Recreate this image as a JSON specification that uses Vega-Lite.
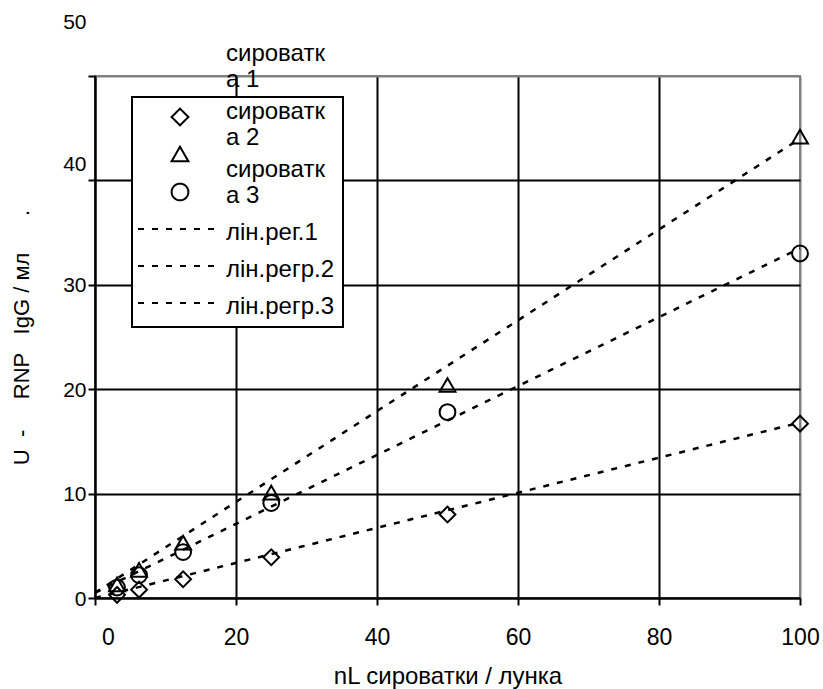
{
  "$schema": "https://vega.github.io/schema/vega-lite/v6.json",
  "width": 705,
  "height": 522,
  "autosize": "none",
  "padding": {"left": 95, "top": 76, "right": 23, "bottom": 91},
  "background": "white",
  "config": {
    "font": "Liberation Sans",
    "view": {"stroke": "#808080", "strokeWidth": 2},
    "axis": {
      "domainColor": "black",
      "domainWidth": 2,
      "tickColor": "black",
      "tickWidth": 2,
      "tickSize": 7,
      "labelColor": "black",
      "labelFont": "Liberation Sans",
      "titleColor": "black",
      "titleFont": "Liberation Sans",
      "titleFontWeight": "normal",
      "gridWidth": 2
    }
  },
  "datasets": {
    "points": [
      {"nl": 3.125, "u": 0.3, "series": "сироватка 1"},
      {"nl": 6.25, "u": 0.8, "series": "сироватка 1"},
      {"nl": 12.5, "u": 1.8, "series": "сироватка 1"},
      {"nl": 25, "u": 3.9, "series": "сироватка 1"},
      {"nl": 50, "u": 8.0, "series": "сироватка 1"},
      {"nl": 100, "u": 16.7, "series": "сироватка 1"},
      {"nl": 3.125, "u": 1.3, "series": "сироватка 2"},
      {"nl": 6.25, "u": 2.7, "series": "сироватка 2"},
      {"nl": 12.5, "u": 5.3, "series": "сироватка 2"},
      {"nl": 25, "u": 10.1, "series": "сироватка 2"},
      {"nl": 50, "u": 20.4, "series": "сироватка 2"},
      {"nl": 100, "u": 44.2, "series": "сироватка 2"},
      {"nl": 3.125, "u": 1.0, "series": "сироватка 3"},
      {"nl": 6.25, "u": 2.2, "series": "сироватка 3"},
      {"nl": 12.5, "u": 4.4, "series": "сироватка 3"},
      {"nl": 25, "u": 9.1, "series": "сироватка 3"},
      {"nl": 50, "u": 17.8, "series": "сироватка 3"},
      {"nl": 100, "u": 33.0, "series": "сироватка 3"}
    ],
    "lines": [
      {"nl": 0, "u": 0.0, "series": "лін.рег.1"},
      {"nl": 100, "u": 16.8, "series": "лін.рег.1"},
      {"nl": 0, "u": 0.5, "series": "лін.регр.2"},
      {"nl": 100, "u": 44.0, "series": "лін.регр.2"},
      {"nl": 0, "u": 0.5, "series": "лін.регр.3"},
      {"nl": 100, "u": 33.5, "series": "лін.регр.3"}
    ]
  },
  "encoding": {
    "x": {
      "field": "nl",
      "type": "quantitative",
      "scale": {"domain": [0, 100], "nice": false, "zero": false},
      "axis": {
        "title": "nL сироватки / лунка",
        "titleFontSize": 24,
        "titlePadding": 15,
        "values": [0, 20, 40, 60, 80, 100],
        "labelFontSize": 23,
        "labelPadding": 21,
        "labelFlush": false,
        "labelOffset": {"condition": {"test": "datum.value === 0", "value": 13}, "value": 0},
        "grid": true,
        "gridColor": {"condition": {"test": "datum.value === 100", "value": "#808080"}, "value": "black"}
      }
    },
    "y": {
      "field": "u",
      "type": "quantitative",
      "scale": {"domain": [0, 50], "nice": false, "zero": false},
      "axis": {
        "title": "U\u00a0\u00a0-\u00a0\u00a0\u00a0\u00a0\u00a0RNP\u00a0\u00a0\u00a0IgG / мл\u00a0\u00a0\u00a0\u00a0\u00a0\u00a0.",
        "titleFontSize": 22,
        "titlePadding": 29,
        "values": [0, 10, 20, 30, 40, 50],
        "labelFontSize": 21,
        "labelPadding": 2,
        "labelOffset": {"condition": [{"test": "datum.value === 50", "value": -54}, {"test": "datum.value === 40", "value": -16}], "value": 1},
        "grid": true,
        "gridColor": {"condition": {"test": "datum.value === 50", "value": "#808080"}, "value": "black"}
      }
    }
  },
  "layer": [
    {
      "data": {"name": "lines"},
      "mark": {"type": "line", "color": "black", "strokeWidth": 2.5},
      "encoding": {
        "strokeDash": {
          "field": "series",
          "type": "nominal",
          "scale": {
            "domain": ["сироватка 1", "сироватка 2", "сироватка 3", "лін.рег.1", "лін.регр.2", "лін.регр.3"],
            "range": [[1, 0], [1, 0], [1, 0], [6, 8], [6, 8], [6, 8]]
          },
          "legend": {
            "title": null,
            "orient": "none",
            "legendX": 37,
            "legendY": 21,
            "zindex": 1,
            "strokeColor": "black",
            "fillColor": "white",
            "padding": 8,
            "rowPadding": 9,
            "labelFontSize": 24,
            "labelColor": "black",
            "labelOffset": 4,
            "labelLimit": 300,
            "symbolSize": 7056,
            "symbolStrokeColor": "black",
            "symbolStrokeWidth": 2,
            "symbolFillColor": "transparent",
            "labelExpr": "indexof(datum.label + '', 'лін') == 0 ? datum.label : '\u00a0'",
            "encode": {
              "symbols": {"update": {"size": {"signal": "indexof(datum.label + '', 'лін') == 0 ? 7056 : 280"}, "x": {"value": 40}}},
              "labels": {"update": {"x": {"value": 86}, "dy": {"value": 4}}},
              "legend": {"update": {"strokeWidth": {"value": 2}}}
            }
          }
        }
      }
    },
    {
      "data": {"name": "points"},
      "mark": {"type": "point", "filled": false, "color": "black", "strokeWidth": 2, "size": 250},
      "encoding": {
        "shape": {
          "field": "series",
          "type": "nominal",
          "scale": {
            "domain": ["сироватка 1", "сироватка 2", "сироватка 3", "лін.рег.1", "лін.регр.2", "лін.регр.3"],
            "range": ["diamond", "triangle-up", "circle", "stroke", "stroke", "stroke"]
          },
          "legend": {
            "title": null,
            "orient": "none",
            "legendX": 37,
            "legendY": 21,
            "zindex": 1,
            "strokeColor": "black",
            "fillColor": "white",
            "padding": 8,
            "rowPadding": 9,
            "labelFontSize": 24,
            "labelColor": "black",
            "labelOffset": 4,
            "labelLimit": 300,
            "symbolSize": 7056,
            "symbolStrokeColor": "black",
            "symbolStrokeWidth": 2,
            "symbolFillColor": "transparent",
            "labelExpr": "indexof(datum.label + '', 'лін') == 0 ? datum.label : '\u00a0'",
            "encode": {
              "symbols": {"update": {"size": {"signal": "indexof(datum.label + '', 'лін') == 0 ? 7056 : 280"}, "x": {"value": 40}}},
              "labels": {"update": {"x": {"value": 86}, "dy": {"value": 4}}},
              "legend": {"update": {"strokeWidth": {"value": 2}}}
            }
          }
        },
        "opacity": {
          "field": "series",
          "type": "nominal",
          "scale": {
            "domain": ["сироватка 1", "сироватка 2", "сироватка 3"],
            "range": [1, 1, 1]
          },
          "legend": {
            "title": null,
            "orient": "none",
            "legendX": 107,
            "legendY": -34,
            "zindex": 2,
            "padding": 0,
            "rowPadding": 8,
            "labelFontSize": 24,
            "labelColor": "black",
            "labelOffset": 0,
            "labelLimit": 300,
            "symbolSize": 1,
            "symbolStrokeWidth": 0,
            "labelExpr": "['сироватк', substring(datum.label + '', 8)]",
            "encode": {
              "symbols": {"update": {"opacity": {"value": 0}}},
              "labels": {"enter": {"lineHeight": {"value": 29}}, "update": {"lineHeight": {"value": 29}}}
            }
          }
        }
      }
    }
  ]
}
